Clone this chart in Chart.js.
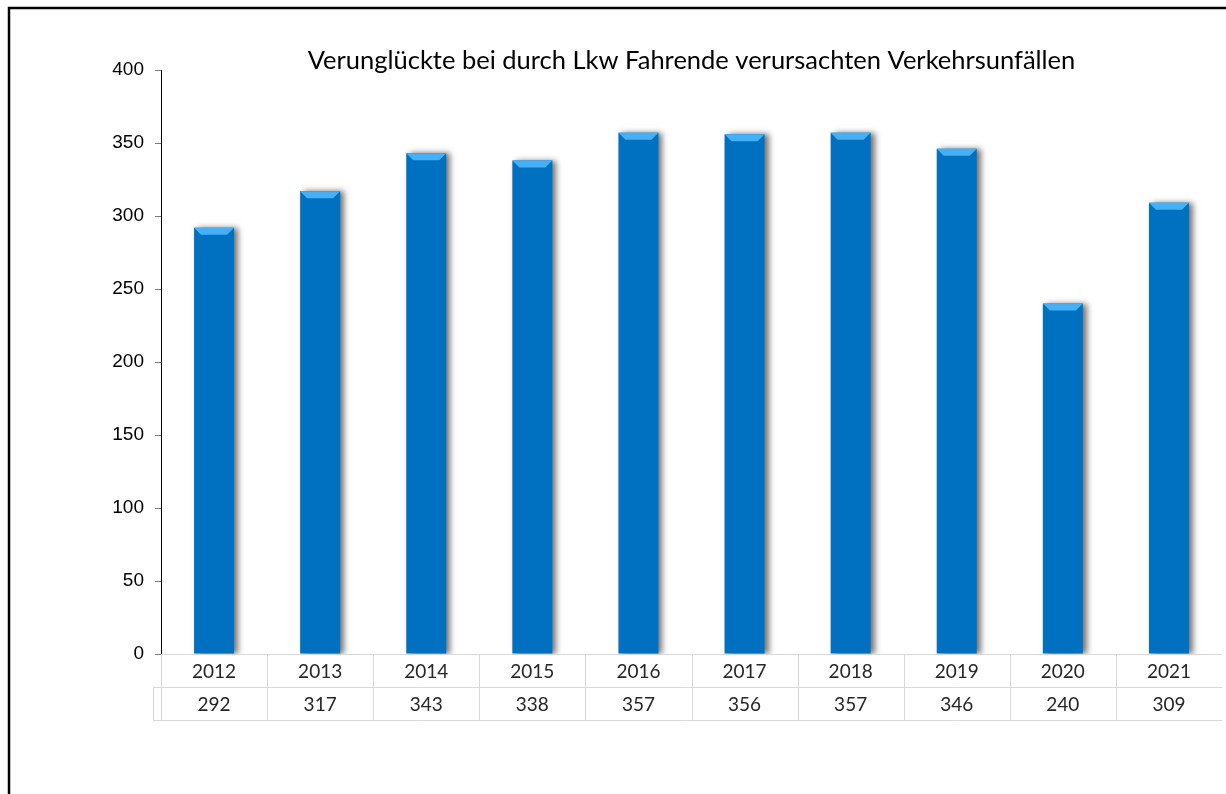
<!DOCTYPE html>
<html><head><meta charset="utf-8">
<script src="https://cdn.jsdelivr.net/npm/chart.js@4"></script>
<style>html,body{margin:0;padding:0;background:#fff;overflow:hidden}#wrap{position:relative;width:1226px;height:794px}</style>
</head><body><div id="wrap"><canvas id="c" width="1226" height="794"></canvas></div>
<script>
const categories = ['2012','2013','2014','2015','2016','2017','2018','2019','2020','2021'];
const values = [292, 317, 343, 338, 357, 356, 357, 346, 240, 309];
const yMin = 0, yMax = 400, yStep = 50;
const titleText = 'Verunglückte bei durch Lkw Fahrende verursachten Verkehrsunfällen';

const TABLE_FONT = '19px Lato, "Open Sans", sans-serif';
const TITLE_FONT = '25.5px Lato, "Open Sans", sans-serif';

const framePlugin = {
  id: 'frame',
  beforeDraw(chart) {
    const ctx = chart.ctx;
    ctx.save();
    ctx.fillStyle = '#fff';
    ctx.fillRect(0, 0, chart.width, chart.height);
    ctx.strokeStyle = '#000';
    ctx.lineWidth = 2.5;
    ctx.strokeRect(9, 8, chart.width + 50, chart.height + 50);
    ctx.restore();
  }
};

const shadowPlugin = {
  id: 'barShadow',
  beforeDatasetDraw(chart) {
    const ctx = chart.ctx;
    ctx.save();
    ctx.shadowColor = 'rgba(0,0,0,0.55)';
    ctx.shadowBlur = 6;
    ctx.shadowOffsetX = 4;
    ctx.shadowOffsetY = 0;
  },
  afterDatasetDraw(chart) {
    chart.ctx.restore();
  }
};

const bevelPlugin = {
  id: 'bevel',
  afterDatasetsDraw(chart) {
    const ctx = chart.ctx;
    const meta = chart.getDatasetMeta(0);
    ctx.save();
    ctx.fillStyle = '#45B0F8';
    meta.data.forEach(bar => {
      const p = bar.getProps(['x', 'y', 'width'], true);
      const l = p.x - p.width / 2, r = p.x + p.width / 2;
      const h = 7, inset = 7;
      ctx.beginPath();
      ctx.moveTo(l, p.y);
      ctx.lineTo(r, p.y);
      ctx.lineTo(r - inset, p.y + h);
      ctx.lineTo(l + inset, p.y + h);
      ctx.closePath();
      ctx.fill();
    });
    ctx.restore();
  }
};

const tablePlugin = {
  id: 'dataTable',
  afterDraw(chart) {
    const ctx = chart.ctx;
    const xs = chart.scales.x;
    const area = chart.chartArea;
    const rowH = 33;
    const top = area.bottom;
    const mid = top + rowH;
    const bot = top + 2 * rowH;
    const keyLeft = area.left - 8;
    ctx.save();
    ctx.strokeStyle = '#d9d9d9';
    ctx.lineWidth = 1;
    ctx.beginPath();
    ctx.moveTo(area.left, top + 0.5); ctx.lineTo(area.right, top + 0.5);
    ctx.moveTo(keyLeft, mid + 0.5); ctx.lineTo(area.right, mid + 0.5);
    ctx.moveTo(keyLeft, bot + 0.5); ctx.lineTo(area.right, bot + 0.5);
    ctx.moveTo(keyLeft + 0.5, mid); ctx.lineTo(keyLeft + 0.5, bot);
    const n = categories.length;
    for (let i = 0; i < n; i++) {
      const xb = Math.round((i === 0 ? area.left : (xs.getPixelForValue(i - 1) + xs.getPixelForValue(i)) / 2)) + 0.5;
      ctx.moveTo(xb, top); ctx.lineTo(xb, bot);
    }
    ctx.stroke();
    ctx.fillStyle = '#262626';
    ctx.font = TABLE_FONT;
    ctx.textAlign = 'center';
    ctx.textBaseline = 'middle';
    categories.forEach((c, i) => {
      const x = xs.getPixelForValue(i);
      ctx.fillText(c, x, top + rowH / 2 + 1);
      ctx.fillText(String(values[i]), x, mid + rowH / 2 + 1);
    });
    // title
    ctx.fillStyle = '#000';
    ctx.font = TITLE_FONT;
    ctx.fillText(titleText, (area.left + area.right) / 2, 61);
    ctx.restore();
  }
};

new Chart(document.getElementById('c'), {
  type: 'bar',
  data: {
    labels: categories,
    datasets: [{
      data: values,
      backgroundColor: '#0070C0',
      borderWidth: 0,
      categoryPercentage: 1,
      barPercentage: 0.377
    }]
  },
  options: {
    responsive: false,
    animation: false,
    devicePixelRatio: 1,
    layout: { padding: { left: 95, right: 4, top: 70, bottom: 140 } },
    plugins: { legend: { display: false }, title: { display: false }, tooltip: { enabled: false } },
    scales: {
      x: { display: false },
      y: {
        min: yMin, max: yMax,
        ticks: { stepSize: yStep, color: '#000', padding: 11, font: { family: '"Liberation Sans", Arial, sans-serif', size: 19 } },
        grid: { display: true, drawOnChartArea: false, drawTicks: true, tickLength: 6, color: '#808080' },
        border: { display: true, color: '#000', width: 1 },
        afterFit(s) { s.width = 66; }
      }
    }
  },
  plugins: [framePlugin, shadowPlugin, bevelPlugin, tablePlugin]
});
</script>
</body></html>
